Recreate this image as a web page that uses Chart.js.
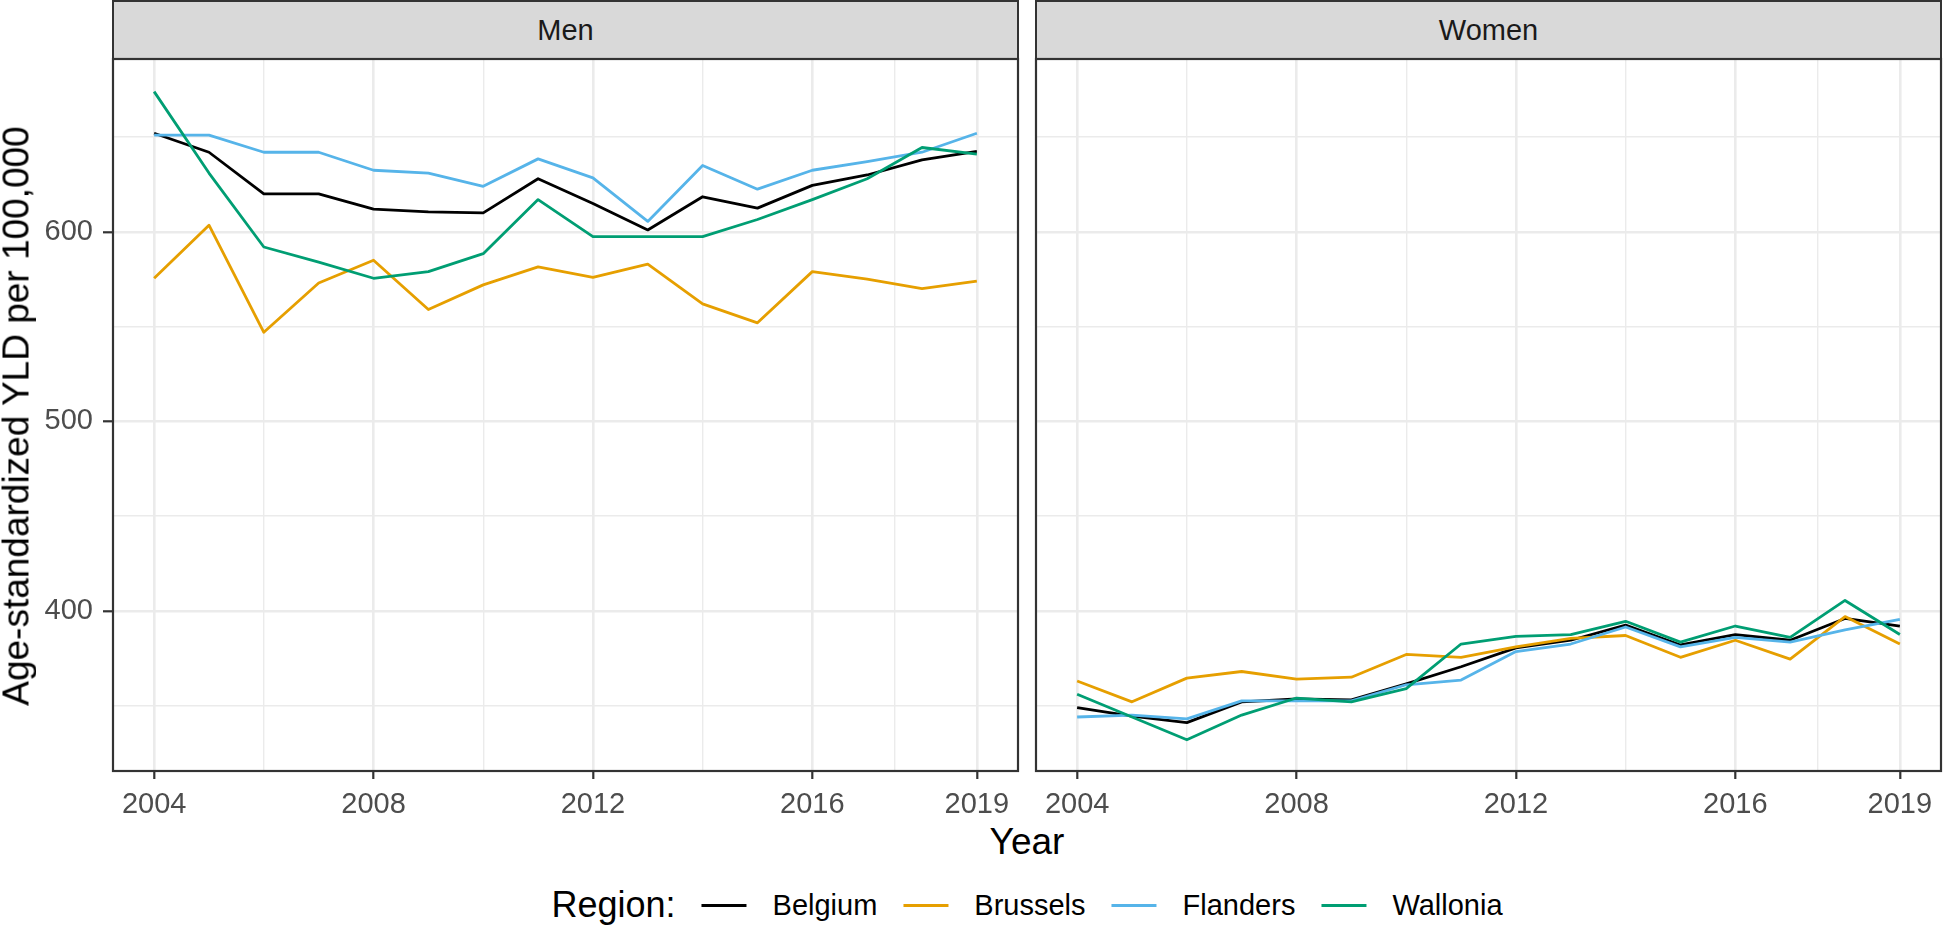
<!DOCTYPE html>
<html>
<head>
<meta charset="utf-8">
<script src="https://cdn.jsdelivr.net/npm/chart.js@4.4.1/dist/chart.umd.min.js"></script>
<style>
  body { margin: 0; background: #fff; overflow: hidden; }
  #wrap { position: relative; width: 1944px; height: 929px; font-family: 'Liberation Sans', Arial, sans-serif; }
  canvas { position: absolute; }
  .strip {
    position: absolute; box-sizing: border-box; top: 0; height: 60px;
    background: #D9D9D9; border: 2px solid #333;
    color: #1A1A1A; font-size: 29px; line-height: 56px; text-align: center;
  }
  .label { position: absolute; white-space: nowrap; line-height: 1; transform: translate(-50%, -50%); }
  #legend { position: absolute; left: 1027px; top: 905px; transform: translate(-50%, -50%); display: flex; align-items: center; white-space: nowrap; }
  #legend .title { font-size: 36px; line-height: 1; }
  #legend .key { width: 45px; height: 3px; margin-left: 26px; }
  #legend .txt { font-size: 29px; line-height: 1; margin-left: 26px; }
</style>
</head>
<body>
<div id="wrap">
  <div class="strip" style="left:112px; width:907px;">Men</div>
  <div class="strip" style="left:1035px; width:907px;">Women</div>
  <canvas id="menChart" width="1025" height="770" style="left:0; top:50px;"></canvas>
  <canvas id="womenChart" width="919" height="770" style="left:1025px; top:50px;"></canvas>
  <div class="label" style="left:16px; top:416px; font-size:37px; transform: translate(-50%, -50%) rotate(-90deg);">Age-standardized YLD per 100,000</div>
  <div class="label" style="left:1027px; top:841px; font-size:37px;">Year</div>
  <div id="legend"><span class="title">Region:</span></div>
</div>
<script>
const years = [2004, 2005, 2006, 2007, 2008, 2009, 2010, 2011, 2012, 2013, 2014, 2015, 2016, 2017, 2018, 2019]
const xMajorTicks = [2004, 2008, 2012, 2016, 2019]
const xMinorTicks = [2006, 2010, 2014, 2017.5]
const yMajorTicks = [400, 500, 600]
const yMinorTicks = [350, 450, 550, 650]

const regions = ['Belgium', 'Brussels', 'Flanders', 'Wallonia']
const regionColors = ['#000000', '#E69F00', '#56B4E9', '#009E73']

// Men
const menBelgium = [652, 642, 620, 620, 612, 610.5, 610, 628, 615, 601, 618.5, 612.5, 624.5, 630, 638, 642.5]
const menBrussels = [575.5, 603.5, 547, 573, 585, 559, 572, 581.5, 576, 583, 562, 552, 579, 575, 570, 574]
const menFlanders = [651, 651, 642, 642, 632.5, 631, 624, 638.5, 628.5, 605.5, 635, 622.5, 632.5, 637, 642, 652]
const menWallonia = [674, 631, 592, 584, 575.5, 579, 588.5, 617, 597.5, 597.5, 597.5, 606.5, 617, 628, 644.5, 641]

// Women
const womenBelgium = [349, 344.5, 341, 352, 353.5, 353, 361.5, 370.5, 380.5, 384.5, 392.5, 382, 387.5, 384.5, 396, 392]
const womenBrussels = [363, 352, 364.5, 368, 364, 365, 377, 375.5, 381, 385.5, 387, 375.5, 384.5, 374.5, 397, 382.5]
const womenFlanders = [344, 345, 343, 352.5, 352.5, 352.5, 361, 363.5, 378.5, 382.5, 391.5, 381, 386, 383.5, 390, 395.5]
const womenWallonia = [356, 344, 332, 345, 354, 352, 359, 382.5, 386.5, 387.5, 394.5, 383.5, 392, 386, 405.5, 387.5]

Chart.defaults.font.family = "'Liberation Sans', Arial, sans-serif"

const GRID = '#EBEBEB'
const DARK = '#333333'

// full border round the panel, like theme_bw
const panelBorder = {
  id: 'panelBorder',
  afterDraw(chart) {
    const { ctx, chartArea: a } = chart
    ctx.save()
    ctx.strokeStyle = DARK
    ctx.lineWidth = 2.2
    ctx.strokeRect(a.left, a.top, a.right - a.left, a.bottom - a.top)
    ctx.restore()
  }
}

function allTicks(major, minor) {
  return [...major, ...minor].sort((a, b) => a - b).map(v => ({ value: v }))
}

// no extra room for half labels at the ends, the panel size is fixed
function noScalePadding(s) {
  s.paddingTop = 0
  s.paddingBottom = 0
  s.paddingLeft = 0
  s.paddingRight = 0
}

function makePanel(canvasId, seriesList, showY, padding) {
  const ctx = document.getElementById(canvasId).getContext('2d')

  const datasets = seriesList.map((vals, i) => ({
    label: regions[i],
    data: years.map((yr, j) => ({ x: yr, y: vals[j] })),
    borderColor: regionColors[i],
    borderWidth: 2.8,
    pointRadius: 0,
    tension: 0,
    fill: false,
    borderJoinStyle: 'round',
    order: regions.length - i
  }))

  return new Chart(ctx, {
    type: 'line',
    data: { datasets },
    plugins: [panelBorder],
    options: {
      responsive: false,
      animation: false,
      devicePixelRatio: 1,
      layout: { padding, autoPadding: false },
      plugins: { legend: { display: false }, tooltip: { enabled: false } },
      scales: {
        x: {
          type: 'linear',
          min: 2003.25,
          max: 2019.75,
          afterBuildTicks: s => { s.ticks = allTicks(xMajorTicks, xMinorTicks) },
          afterFit: s => { s.height = 49; noScalePadding(s) },
          border: { display: false },
          grid: {
            color: GRID,
            lineWidth: c => xMajorTicks.includes(c.tick.value) ? 2.6 : 1.4,
            tickLength: 8,
            tickWidth: 2.2,
            tickColor: c => xMajorTicks.includes(c.tick.value) ? DARK : 'rgba(0,0,0,0)'
          },
          ticks: {
            autoSkip: false,
            maxRotation: 0,
            color: '#4D4D4D',
            font: { size: 29 },
            padding: 9,
            callback: v => xMajorTicks.includes(v) ? String(v) : ''
          }
        },
        y: {
          min: 315.5,
          max: 691.2,
          afterBuildTicks: s => { s.ticks = allTicks(yMajorTicks, yMinorTicks) },
          afterFit: s => { s.width = showY ? 113 : 0; noScalePadding(s) },
          border: { display: false },
          grid: {
            color: GRID,
            lineWidth: c => yMajorTicks.includes(c.tick.value) ? 2.6 : 1.4,
            drawTicks: showY,
            tickLength: 10,
            tickWidth: 2.2,
            tickColor: c => yMajorTicks.includes(c.tick.value) ? DARK : 'rgba(0,0,0,0)'
          },
          ticks: {
            display: showY,
            autoSkip: false,
            color: '#4D4D4D',
            font: { size: 29 },
            padding: 10,
            callback: v => yMajorTicks.includes(v) ? String(v) : ''
          }
        }
      }
    }
  })
}

function renderLegend() {
  const legendEl = document.getElementById('legend')
  regions.forEach((name, i) => {
    const key = document.createElement('span')
    key.className = 'key'
    key.style.background = regionColors[i]
    const txt = document.createElement('span')
    txt.className = 'txt'
    txt.textContent = name
    legendEl.appendChild(key)
    legendEl.appendChild(txt)
  })
}

makePanel('menChart', [menBelgium, menBrussels, menFlanders, menWallonia], true, { top: 9, right: 7, left: 0, bottom: 0 })
makePanel('womenChart', [womenBelgium, womenBrussels, womenFlanders, womenWallonia], false, { top: 9, right: 3, left: 11, bottom: 0 })
renderLegend()
</script>
</body>
</html>
